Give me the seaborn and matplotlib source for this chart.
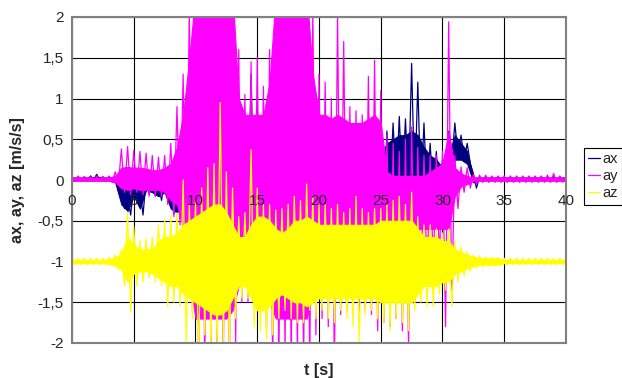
import matplotlib

matplotlib.use("Agg", force=True)
import matplotlib.pyplot as plt
import numpy as np
import pandas as pd
import seaborn as sns

# readings every 0.5 s (t = 0 .. 40)
# *_hi / *_lo : extreme spikes, *_top / *_bot : edges of the dense solid band
t_env = np.arange(0, 40.01, 0.5)

ax_hi = [0.04, 0.04, 0.04, 0.05, 0.07, 0.04, 0.04, 0.02, -0.10, -0.20,
         -0.05, -0.10, 0.00, 0.00, -0.05, 0.00, 0.00, 0.10, 0.40, 0.50,
         0.60, 0.60, 0.70, 0.60, 0.60, 0.70, 0.80, 0.90, 0.80, 1.30,
         0.70, 0.65, 0.60, 0.60, 0.60, 0.60, 0.60, 0.60, 0.60, 0.60,
         0.60, 0.60, 0.60, 0.60, 0.60, 0.60, 0.60, 0.60, 0.60, 0.60,
         0.60, 0.60, 0.70, 0.78, 0.75, 1.43, 1.20, 0.70, 0.45, 0.35,
         0.25, 0.60, 0.70, 0.55, 0.45, 0.08, 0.04, 0.04, 0.04, 0.04,
         0.04, 0.04, 0.04, 0.04, 0.04, 0.04, 0.04, 0.04, 0.04, 0.04,
         0.04]
ax_lo = [0.00, 0.00, 0.00, 0.00, 0.00, 0.00, 0.00, -0.05, -0.35, -0.43,
         -0.25, -0.43, -0.18, -0.20, -0.25, -0.22, -0.42, -0.47, -0.50, -0.50,
         -0.50, -0.50, -0.50, -0.50, -0.50, -0.50, -0.50, -0.50, -0.50, -0.50,
         -0.50, -0.50, -0.50, -0.50, -0.50, -0.50, -0.50, -0.50, -0.50, -0.50,
         -0.50, -0.50, -0.50, -0.50, -0.50, -0.50, -0.50, -0.50, -0.50, -0.50,
         -0.30, -0.10, -0.10, -0.10, -0.10, -0.15, -0.20, -0.20, -0.20, -0.20,
         -0.10, 0.20, 0.30, 0.25, 0.20, -0.10, 0.00, 0.00, 0.00, 0.00,
         0.00, 0.00, 0.00, 0.00, 0.00, 0.00, 0.00, 0.00, 0.00, 0.00,
         0.00]
ax_top = [0.03, 0.03, 0.03, 0.03, 0.04, 0.03, 0.03, 0.02, -0.10, -0.10,
          -0.05, -0.10, 0.00, -0.05, -0.05, -0.05, -0.10, -0.10, 0.30, 0.30,
          0.30, 0.30, 0.30, 0.30, 0.30, 0.30, 0.30, 0.30, 0.30, 0.30,
          0.30, 0.30, 0.30, 0.30, 0.30, 0.30, 0.30, 0.30, 0.30, 0.30,
          0.30, 0.30, 0.30, 0.30, 0.30, 0.30, 0.30, 0.30, 0.30, 0.30,
          0.30, 0.45, 0.50, 0.55, 0.55, 0.60, 0.55, 0.40, 0.30, 0.25,
          0.15, 0.30, 0.55, 0.45, 0.35, 0.03, 0.03, 0.03, 0.03, 0.03,
          0.03, 0.03, 0.03, 0.03, 0.03, 0.03, 0.03, 0.03, 0.03, 0.03,
          0.03]
ax_bot = [0.00, 0.00, 0.00, 0.00, 0.00, 0.00, 0.00, -0.03, -0.30, -0.38,
          -0.20, -0.35, -0.12, -0.15, -0.20, -0.15, -0.35, -0.40, -0.30, -0.30,
          -0.30, -0.30, -0.30, -0.30, -0.30, -0.30, -0.30, -0.30, -0.30, -0.30,
          -0.30, -0.30, -0.30, -0.30, -0.30, -0.30, -0.30, -0.30, -0.30, -0.30,
          -0.30, -0.30, -0.30, -0.30, -0.30, -0.30, -0.30, -0.30, -0.30, -0.30,
          -0.10, 0.00, 0.00, 0.05, 0.05, 0.00, 0.00, -0.05, -0.10, -0.10,
          -0.05, 0.00, 0.25, 0.25, 0.20, -0.03, 0.00, 0.00, 0.00, 0.00,
          0.00, 0.00, 0.00, 0.00, 0.00, 0.00, 0.00, 0.00, 0.00, 0.00,
          0.00]

ay_hi = [0.04, 0.05, 0.04, 0.04, 0.05, 0.04, 0.05, 0.10, 0.38, 0.41,
         0.36, 0.35, 0.33, 0.30, 0.28, 0.30, 0.45, 0.90, 1.30, 2.10,
         2.30, 2.30, 2.30, 2.30, 2.30, 2.30, 2.30, 1.60, 1.05, 1.45,
         1.50, 1.15, 1.60, 2.10, 2.30, 2.30, 2.30, 2.30, 1.70, 2.10,
         1.30, 1.20, 1.00, 2.05, 1.70, 0.90, 0.85, 0.80, 1.27, 1.47,
         1.10, 0.55, 0.45, 0.35, 0.50, 0.65, 0.40, 0.30, 0.30, 0.30,
         0.35, 1.94, 0.30, 0.16, 0.15, 0.07, 0.06, 0.06, 0.05, 0.05,
         0.05, 0.05, 0.05, 0.05, 0.05, 0.05, 0.05, 0.06, 0.08, 0.05,
         0.05]
ay_lo = [-0.02, -0.02, -0.02, -0.02, -0.02, -0.02, -0.03, -0.06, -0.15, -0.18,
         -0.15, -0.18, -0.20, -0.20, -0.20, -0.30, -0.45, -0.55, -1.00, -1.60,
         -2.30, -2.30, -2.30, -2.30, -2.30, -2.30, -2.00, -1.50, -1.50, -1.40,
         -1.60, -1.80, -2.30, -2.30, -2.10, -2.30, -2.20, -2.30, -2.30, -1.90,
         -1.70, -1.80, -2.30, -1.65, -1.60, -1.55, -1.60, -1.60, -1.65, -1.85,
         -1.75, -1.80, -1.70, -1.85, -2.05, -1.50, -1.30, -1.20, -1.10, -1.00,
         -1.80, -1.50, -0.35, -0.15, -0.10, -0.05, -0.03, -0.03, -0.03, -0.03,
         -0.03, -0.03, -0.03, -0.03, -0.03, -0.03, -0.03, -0.03, -0.03, -0.03,
         -0.03]
ay_top = [0.03, 0.03, 0.03, 0.03, 0.03, 0.03, 0.03, 0.05, 0.15, 0.16,
          0.15, 0.15, 0.14, 0.12, 0.12, 0.15, 0.20, 0.40, 0.80, 1.50,
          2.30, 2.30, 2.30, 2.30, 2.30, 2.30, 2.30, 1.00, 0.80, 0.80,
          0.80, 0.80, 1.20, 2.30, 2.30, 2.30, 2.30, 2.30, 2.30, 1.30,
          0.80, 0.80, 0.75, 0.80, 0.75, 0.70, 0.70, 0.70, 0.75, 0.80,
          0.70, 0.10, 0.05, 0.05, 0.05, 0.05, 0.05, 0.05, 0.10, 0.15,
          0.20, 0.60, 0.15, 0.08, 0.05, 0.03, 0.03, 0.03, 0.03, 0.03,
          0.03, 0.03, 0.03, 0.03, 0.03, 0.03, 0.03, 0.03, 0.03, 0.03,
          0.03]
ay_bot = [-0.01, -0.01, -0.01, -0.01, -0.01, -0.01, -0.01, -0.03, -0.10, -0.12,
          -0.10, -0.12, -0.12, -0.12, -0.12, -0.15, -0.25, -0.30, -0.60, -1.20,
          -1.70, -1.70, -1.70, -1.70, -1.70, -1.70, -1.60, -1.30, -1.20, -1.20,
          -1.20, -1.20, -1.50, -1.70, -1.70, -1.70, -1.70, -1.70, -1.70, -1.40,
          -1.20, -1.20, -1.20, -1.20, -1.20, -1.20, -1.20, -1.20, -1.20, -1.20,
          -1.20, -0.60, -0.60, -0.60, -0.60, -0.60, -0.60, -0.60, -0.60, -0.60,
          -0.60, -0.60, -0.20, -0.08, -0.05, -0.01, -0.01, -0.01, -0.01, -0.01,
          -0.01, -0.01, -0.01, -0.01, -0.01, -0.01, -0.01, -0.01, -0.01, -0.01,
          -0.01]

az_hi = [-0.96, -0.96, -0.96, -0.96, -0.96, -0.96, -0.95, -0.92, -0.85, -0.40,
         -0.57, -0.75, -0.72, -0.70, -0.55, -0.50, -0.45, -0.40, 0.00, -0.30,
         -0.25, -0.10, 0.15, 0.20, 0.95, 0.10, -0.10, -0.45, -0.40, 0.37,
         -0.10, -0.30, -0.30, -0.37, -0.35, -0.30, -0.20, -0.25, -0.05, -0.20,
         -0.30, -0.30, -0.35, -0.30, -0.40, -0.35, -0.20, -0.35, -0.40, -0.35,
         -0.35, -0.30, -0.25, -0.20, -0.30, -0.15, -0.45, -0.55, -0.55, -0.60,
         -0.65, -0.60, -0.75, -0.82, -0.88, -0.92, -0.93, -0.94, -0.95, -0.95,
         -0.96, -0.96, -0.96, -0.96, -0.96, -0.96, -0.96, -0.96, -0.96, -0.96,
         -0.96]
az_lo = [-1.04, -1.04, -1.04, -1.04, -1.04, -1.04, -1.05, -1.10, -1.30, -1.62,
         -1.30, -1.25, -1.20, -1.25, -1.30, -1.55, -1.50, -1.55, -2.00, -1.70,
         -2.20, -1.90, -2.10, -2.10, -2.00, -2.10, -1.70, -1.45, -1.45, -1.80,
         -1.85, -1.95, -1.90, -1.70, -1.60, -1.70, -1.75, -1.75, -1.60, -1.70,
         -1.60, -1.70, -1.75, -1.60, -1.70, -1.80, -2.00, -1.65, -1.60, -1.70,
         -1.75, -1.85, -1.70, -1.75, -1.85, -1.60, -1.50, -1.55, -1.55, -1.40,
         -1.35, -1.55, -1.25, -1.18, -1.12, -1.08, -1.07, -1.06, -1.05, -1.05,
         -1.04, -1.04, -1.04, -1.04, -1.04, -1.04, -1.04, -1.04, -1.04, -1.04,
         -1.04]
az_top = [-0.98, -0.98, -0.98, -0.98, -0.98, -0.98, -0.97, -0.95, -0.90, -0.70,
          -0.80, -0.85, -0.85, -0.85, -0.75, -0.70, -0.70, -0.65, -0.55, -0.50,
          -0.45, -0.40, -0.35, -0.30, -0.30, -0.40, -0.55, -0.70, -0.70, -0.55,
          -0.45, -0.45, -0.50, -0.60, -0.65, -0.60, -0.50, -0.50, -0.45, -0.50,
          -0.55, -0.55, -0.55, -0.55, -0.55, -0.55, -0.55, -0.55, -0.55, -0.55,
          -0.50, -0.50, -0.50, -0.50, -0.50, -0.50, -0.60, -0.70, -0.70, -0.70,
          -0.75, -0.75, -0.85, -0.88, -0.92, -0.94, -0.96, -0.96, -0.96, -0.96,
          -0.98, -0.98, -0.98, -0.98, -0.98, -0.98, -0.98, -0.98, -0.98, -0.98,
          -0.98]
az_bot = [-1.02, -1.02, -1.02, -1.02, -1.02, -1.02, -1.03, -1.05, -1.10, -1.25,
          -1.15, -1.12, -1.12, -1.15, -1.20, -1.25, -1.30, -1.30, -1.40, -1.45,
          -1.50, -1.55, -1.60, -1.65, -1.65, -1.60, -1.45, -1.30, -1.30, -1.45,
          -1.60, -1.60, -1.55, -1.45, -1.40, -1.45, -1.50, -1.50, -1.55, -1.50,
          -1.45, -1.45, -1.45, -1.45, -1.45, -1.45, -1.45, -1.45, -1.45, -1.45,
          -1.50, -1.50, -1.50, -1.50, -1.50, -1.50, -1.40, -1.30, -1.30, -1.30,
          -1.25, -1.25, -1.15, -1.12, -1.08, -1.06, -1.04, -1.04, -1.04, -1.04,
          -1.02, -1.02, -1.02, -1.02, -1.02, -1.02, -1.02, -1.02, -1.02, -1.02,
          -1.02]

series_names = ["ax", "ay", "az"]
colors = {"ax": "#000080", "ay": "#FF00FF", "az": "#FFFF00"}
bands = {"ax": (ax_top, ax_bot), "ay": (ay_top, ay_bot), "az": (az_top, az_bot)}


def zigzag(name, hi, lo):
    # alternate between the upper and lower spike readings, a quarter second apart
    t = np.column_stack([t_env, t_env + 0.25]).ravel()
    v = np.column_stack([hi, lo]).ravel()
    return pd.DataFrame({"t": t, "value": v, "series": name})


df = pd.concat([
    zigzag("ax", ax_hi, ax_lo),
    zigzag("ay", ay_hi, ay_lo),
    zigzag("az", az_hi, az_lo),
], ignore_index=True)

sns.set_theme(style="white")
plt.rcParams["font.family"] = ["Liberation Sans", "DejaVu Sans"]

fig = plt.figure(figsize=(6.22, 3.78), dpi=100)
ax = fig.add_axes([72 / 622, 1 - 343 / 378, 494 / 622, 326 / 378])

sns.lineplot(data=df, x="t", y="value", hue="series", hue_order=series_names,
             palette=colors, estimator=None, linewidth=0.9, legend=False, ax=ax)

# series drawn in order ax, ay, az; each dense band just under its spikes
for i, name in enumerate(series_names):
    z = 2 + i * 0.2
    ax.lines[i].set_zorder(z + 0.1)
    top, bot = bands[name]
    ax.fill_between(t_env, bot, top, color=colors[name], linewidth=0.8,
                    edgecolor=colors[name], zorder=z)

ax.set_xlim(0, 40)
ax.set_ylim(-2, 2)
xticks = np.arange(0, 41, 5)
yticks = np.arange(-2, 2.01, 0.5)
ax.set_xticks(xticks)
ax.set_yticks(yticks)
ax.set_yticklabels([f"{v:g}".replace(".", ",") for v in yticks], fontsize=11)
ax.tick_params(axis="x", labelbottom=False, length=0)
ax.tick_params(axis="y", length=4, width=0.8, color="#404040", pad=2)
ax.grid(True, color="black", linewidth=0.8)
ax.set_axisbelow(True)
for sp in ax.spines.values():
    sp.set_color("#808080")
    sp.set_linewidth(1.5)

# x labels sit just under the zero line, as in the original
sec = ax.secondary_xaxis(0.5)
sec.xaxis.set_ticks_position("bottom")
sec.tick_params(axis="x", length=0, pad=10, labelbottom=True, labeltop=False)
sec.set_xticks(xticks)
sec.set_xticklabels([str(v) for v in xticks], fontsize=11)
for sp in sec.spines.values():
    sp.set_visible(False)
sec.set_zorder(5)

ax.set_xlabel("t [s]", fontsize=11.5, fontweight="bold")
ax.xaxis.set_label_coords(0.5, -0.06)
ax.set_ylabel("ax, ay, az [m/s/s]", fontsize=11.5, fontweight="bold")
ax.yaxis.set_label_coords(-0.095, 0.5)

leg = ax.legend(ax.lines[:3], series_names, loc="upper left",
                bbox_to_anchor=(584 / 622, 1 - 148 / 378), bbox_transform=fig.transFigure,
                frameon=True, fancybox=False, edgecolor="black", framealpha=1,
                handlelength=0.8, handletextpad=0.15, borderpad=0.3,
                labelspacing=0.2, fontsize=10.5, borderaxespad=0)
leg.get_frame().set_linewidth(0.8)
leg.set_zorder(10)

fig.savefig("out.png", dpi=100)
plt.close(fig)
